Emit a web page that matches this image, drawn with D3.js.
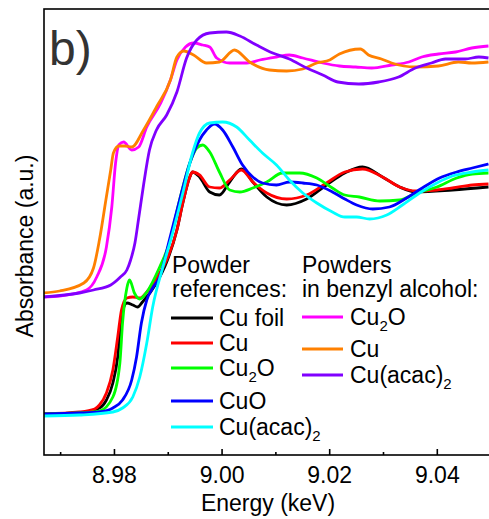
<!DOCTYPE html>
<html>
<head>
<meta charset="utf-8">
<script src="https://cdn.jsdelivr.net/npm/d3@7"></script>
<style>
  html, body { margin: 0; padding: 0; background: #fff; }
  svg { display: block; font-family: "Liberation Sans", Arial, sans-serif; }
</style>
</head>
<body>
<div id="chart"></div>
<script>
// Cu K-edge XANES, energy in keV, absorbance normalised (stacked)
const xTicksMajor = [8.98, 9.00, 9.02, 9.04];
const xTicksMinor = [8.97, 8.99, 9.01, 9.03, 9.05];

// Powder references
const cuFoilE = [8.9669, 8.9736, 8.9773, 8.9786, 8.9798, 8.9807, 8.9814, 8.9824, 8.9835, 8.9844, 8.9853, 8.9879, 8.9898, 8.9917, 8.9928, 8.9941, 8.9946, 8.9959, 8.9978, 8.9996, 9.0015, 9.0037, 9.0058, 9.0084, 9.0121, 9.0158, 9.0195, 9.0229, 9.0262, 9.0299, 9.0331, 9.0362, 9.0429, 9.0496];
const cuFoilA = [0.004, 0.008, 0.028, 0.06, 0.128, 0.232, 0.392, 0.448, 0.44, 0.432, 0.452, 0.528, 0.612, 0.74, 0.848, 0.952, 0.972, 0.952, 0.892, 0.88, 0.932, 0.984, 0.932, 0.872, 0.84, 0.864, 0.92, 0.968, 0.992, 0.952, 0.912, 0.892, 0.90, 0.912];

const cuE = [8.9669, 8.9736, 8.9764, 8.9773, 8.9786, 8.9798, 8.9807, 8.9814, 8.9824, 8.9835, 8.9848, 8.9861, 8.9879, 8.9898, 8.9917, 8.9928, 8.9941, 8.9946, 8.9959, 8.9978, 8.9996, 9.0015, 9.0037, 9.0058, 9.0084, 9.0121, 9.0158, 9.0195, 9.0229, 9.0262, 9.0299, 9.0331, 9.0362, 9.0400, 9.0429, 9.0466, 9.0496];
const cuA = [0.004, 0.012, 0.024, 0.04, 0.088, 0.18, 0.312, 0.42, 0.468, 0.472, 0.468, 0.492, 0.548, 0.62, 0.74, 0.848, 0.952, 0.972, 0.96, 0.912, 0.908, 0.94, 0.98, 0.932, 0.888, 0.864, 0.88, 0.928, 0.972, 0.984, 0.952, 0.912, 0.896, 0.90, 0.908, 0.92, 0.924];

const cu2oE = [8.9669, 8.9736, 8.9773, 8.9798, 8.9811, 8.9816, 8.9824, 8.9829, 8.9838, 8.9848, 8.9861, 8.9885, 8.9903, 8.9922, 8.9941, 8.9954, 8.9965, 8.9978, 8.9996, 9.0015, 9.0034, 9.0058, 9.0084, 9.0113, 9.0145, 9.0177, 9.0206, 9.0229, 9.0256, 9.0294, 9.0331, 9.0362, 9.0400, 9.0437, 9.0466, 9.0496];
const cu2oA = [0.004, 0.008, 0.016, 0.072, 0.208, 0.368, 0.508, 0.54, 0.488, 0.464, 0.492, 0.592, 0.688, 0.86, 1.008, 1.068, 1.08, 1.052, 0.972, 0.9, 0.892, 0.908, 0.932, 0.968, 0.968, 0.948, 0.908, 0.88, 0.872, 0.856, 0.86, 0.888, 0.912, 0.948, 0.964, 0.968];

const cuoE = [8.9669, 8.9736, 8.9773, 8.9798, 8.9816, 8.9833, 8.9842, 8.9851, 8.9861, 8.9872, 8.9885, 8.9903, 8.9922, 8.9941, 8.9959, 8.9972, 8.9987, 9.0002, 9.0021, 9.0039, 9.0058, 9.0076, 9.0102, 9.0126, 9.0151, 9.0177, 9.0206, 9.0229, 9.0251, 9.0281, 9.0312, 9.0344, 9.0373, 9.0405, 9.0437, 9.0466, 9.0496];
const cuoA = [0.004, 0.008, 0.012, 0.028, 0.06, 0.14, 0.232, 0.368, 0.46, 0.508, 0.552, 0.70, 0.86, 1.008, 1.10, 1.14, 1.164, 1.14, 1.072, 1.00, 0.952, 0.928, 0.92, 0.932, 0.928, 0.92, 0.892, 0.864, 0.84, 0.824, 0.832, 0.868, 0.908, 0.948, 0.972, 0.988, 1.004];

const cuAcacE = [8.9669, 8.9736, 8.9798, 8.9816, 8.9835, 8.9848, 8.9861, 8.9872, 8.9891, 8.9909, 8.9928, 8.9946, 8.9959, 8.9978, 9.0002, 9.0028, 9.0052, 9.0076, 9.0102, 9.0126, 9.0151, 9.0177, 9.0206, 9.0229, 9.0251, 9.0275, 9.0307, 9.0336, 9.0368, 9.0400, 9.0429, 9.0466, 9.0496];
const cuAcacA = [-0.004, 0.0, 0.012, 0.028, 0.072, 0.152, 0.288, 0.432, 0.592, 0.728, 0.888, 1.048, 1.128, 1.168, 1.172, 1.152, 1.10, 1.048, 1.00, 0.94, 0.888, 0.848, 0.812, 0.792, 0.792, 0.784, 0.80, 0.84, 0.888, 0.928, 0.956, 0.972, 0.98];

// Powders in benzyl alcohol (offset upwards)
const baCu2oE = [8.9669, 8.9699, 8.9749, 8.9768, 8.9786, 8.9796, 8.9803, 8.9809, 8.9818, 8.9833, 8.9846, 8.9861, 8.9887, 8.9905, 8.9917, 8.9933, 8.9948, 8.9965, 8.9978, 8.9991, 9.0015, 9.0047, 9.0071, 9.0102, 9.0126, 9.0151, 9.0188, 9.0219, 9.0249, 9.0279, 9.0316, 9.0348, 9.0372, 9.0403, 9.0435, 9.0465, 9.0496];
const baCu2oA = [0.472, 0.476, 0.50, 0.552, 0.672, 0.832, 1.008, 1.08, 1.092, 1.06, 1.072, 1.152, 1.248, 1.34, 1.42, 1.472, 1.488, 1.48, 1.472, 1.428, 1.408, 1.408, 1.42, 1.432, 1.44, 1.428, 1.408, 1.396, 1.392, 1.388, 1.40, 1.412, 1.432, 1.444, 1.452, 1.468, 1.476];

const baCuE = [8.9669, 8.9699, 8.9744, 8.9762, 8.9773, 8.9785, 8.9794, 8.9799, 8.9809, 8.9820, 8.9833, 8.9855, 8.9879, 8.9905, 8.9917, 8.9930, 8.9948, 8.9972, 8.9996, 9.0024, 9.0052, 9.0089, 9.0121, 9.0151, 9.0177, 9.0201, 9.0219, 9.0258, 9.0273, 9.0297, 9.0316, 9.0360, 9.0403, 9.0440, 9.0465, 9.0496];
const baCuA = [0.488, 0.496, 0.528, 0.588, 0.70, 0.86, 0.98, 1.048, 1.076, 1.076, 1.072, 1.14, 1.232, 1.34, 1.432, 1.456, 1.44, 1.408, 1.412, 1.46, 1.412, 1.38, 1.376, 1.384, 1.408, 1.42, 1.444, 1.464, 1.44, 1.424, 1.408, 1.392, 1.396, 1.412, 1.408, 1.412];

const baAcacE = [8.9669, 8.9736, 8.9762, 8.9794, 8.9812, 8.9824, 8.9831, 8.9839, 8.9846, 8.9855, 8.9866, 8.9879, 8.9898, 8.9917, 8.9935, 8.9954, 8.9978, 9.0009, 9.0034, 9.0065, 9.0095, 9.0126, 9.0158, 9.0188, 9.0216, 9.0255, 9.0292, 9.0329, 9.0360, 9.0390, 9.0416, 9.0453, 9.0478, 9.0496];
const baAcacA = [0.472, 0.488, 0.50, 0.52, 0.552, 0.58, 0.62, 0.688, 0.788, 0.92, 1.06, 1.14, 1.20, 1.292, 1.428, 1.50, 1.528, 1.532, 1.516, 1.48, 1.448, 1.424, 1.388, 1.36, 1.332, 1.324, 1.332, 1.352, 1.388, 1.408, 1.424, 1.424, 1.432, 1.428];

const refNames = ["Cu foil", "Cu", "Cu|2|O", "CuO", "Cu(acac)|2"];
const refColors = ["#000000", "#ff0000", "#00ff00", "#0000ff", "#00ffff"];
const baNames = ["Cu|2|O", "Cu", "Cu(acac)|2"];
const baColors = ["#ff00ff", "#ff8000", "#8000ff"];

const width = 489, height = 519;
const margin = { top: 9, right: 0, bottom: 64, left: 44 };

const svg = d3.select("#chart").append("svg")
  .attr("width", width)
  .attr("height", height)
  .attr("viewBox", [0, 0, width, height]);

const x = d3.scaleLinear()
  .domain([8.967, 9.0497])
  .range([margin.left, width - margin.right]);

const y = d3.scaleLinear()
  .domain([-0.16, 1.624])
  .range([height - margin.bottom, margin.top]);

svg.append("clipPath").attr("id", "plot")
  .append("rect")
    .attr("x", margin.left).attr("y", margin.top)
    .attr("width", width - margin.left).attr("height", height - margin.bottom - margin.top);

const zip = (es, as) => es.map((e, i) => ({ e, a: as[i] }));
const series = [
  { pts: zip(cuFoilE, cuFoilA), color: refColors[0] },
  { pts: zip(cuE, cuA), color: refColors[1] },
  { pts: zip(cu2oE, cu2oA), color: refColors[2] },
  { pts: zip(cuoE, cuoA), color: refColors[3] },
  { pts: zip(cuAcacE, cuAcacA), color: refColors[4] },
  { pts: zip(baCu2oE, baCu2oA), color: baColors[0] },
  { pts: zip(baCuE, baCuA), color: baColors[1] },
  { pts: zip(baAcacE, baAcacA), color: baColors[2] },
];

const line = d3.line()
  .x(d => x(d.e))
  .y(d => y(d.a))
  .curve(d3.curveMonotoneX);

svg.append("g")
  .attr("clip-path", "url(#plot)")
  .selectAll("path")
  .data(series)
  .join("path")
    .attr("fill", "none")
    .attr("stroke", d => d.color)
    .attr("stroke-width", 2.8)
    .attr("stroke-linejoin", "round")
    .attr("d", d => line(d.pts));

// frame
svg.append("rect")
  .attr("x", margin.left).attr("y", margin.top)
  .attr("width", width - margin.left + 2).attr("height", height - margin.bottom - margin.top)
  .attr("fill", "none").attr("stroke", "#000").attr("stroke-width", 1.6);

// x-axis, ticks pointing inwards
const xAxis = svg.append("g")
  .attr("transform", `translate(0,${height - margin.bottom})`)
  .call(d3.axisBottom(x).tickValues(xTicksMajor).tickFormat(d3.format(".2f"))
    .tickSizeInner(-6).tickSizeOuter(0).tickPadding(12))
  .call(g => g.select(".domain").remove());
xAxis.selectAll(".tick line").attr("stroke-width", 1.6);
xAxis.selectAll(".tick text")
  .attr("font-size", 23).attr("fill", "#000")
  .attr("font-family", "'Liberation Sans', Arial, sans-serif");

svg.append("g")
  .attr("transform", `translate(0,${height - margin.bottom})`)
  .call(d3.axisBottom(x).tickValues(xTicksMinor).tickFormat("").tickSizeInner(-3).tickSizeOuter(0))
  .call(g => g.select(".domain").remove())
  .selectAll(".tick line").attr("stroke-width", 1.6);

svg.append("text")
  .attr("x", 268).attr("y", 511)
  .attr("text-anchor", "middle").attr("font-size", 23)
  .text("Energy (keV)");

svg.append("text")
  .attr("transform", "translate(33,246) rotate(-90)")
  .attr("text-anchor", "middle").attr("font-size", 23)
  .text("Absorbance (a.u.)");

svg.append("text")
  .attr("x", 49).attr("y", 65)
  .attr("font-size", 48).attr("fill", "#333")
  .text("b)");

// label with "|2|" marking a subscript
function addLabel(g, lx, ly, label) {
  const t = g.append("text").attr("x", lx).attr("y", ly).attr("font-size", 23);
  let shift = 0;
  label.split("|").forEach((part, i) => {
    if (!part) return;
    const sub = i % 2 === 1;
    const dy = (sub ? 6 : 0) - shift;
    shift = sub ? 6 : 0;
    t.append("tspan")
      .attr("dy", dy)
      .attr("font-size", sub ? 15 : 23)
      .text(part);
  });
}

const legend = svg.append("g");
legend.append("text").attr("x", 172).attr("y", 273).attr("font-size", 23).text("Powder");
legend.append("text").attr("x", 172).attr("y", 297).attr("font-size", 23).text("references:");
legend.append("text").attr("x", 302).attr("y", 273).attr("font-size", 23).text("Powders");
legend.append("text").attr("x", 302).attr("y", 297).attr("font-size", 23).text("in benzyl alcohol:");

const refRowY = [318, 343, 368, 401, 427];
refNames.forEach((name, i) => {
  legend.append("line")
    .attr("x1", 171).attr("x2", 213).attr("y1", refRowY[i]).attr("y2", refRowY[i])
    .attr("stroke", refColors[i]).attr("stroke-width", 3);
  addLabel(legend, 219, refRowY[i] + 8, name);
});

const baRowY = [317, 349, 375];
baNames.forEach((name, i) => {
  legend.append("line")
    .attr("x1", 302).attr("x2", 343).attr("y1", baRowY[i]).attr("y2", baRowY[i])
    .attr("stroke", baColors[i]).attr("stroke-width", 3);
  addLabel(legend, 350, baRowY[i] + 8, name);
});
</script>
</body>
</html>
